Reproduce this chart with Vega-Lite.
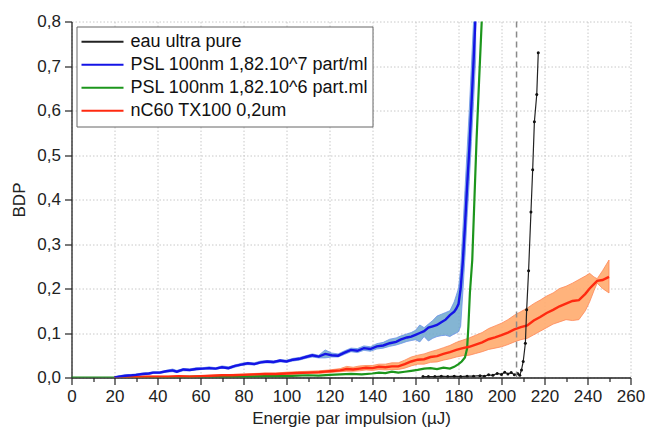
{
  "$schema": "https://vega.github.io/schema/vega-lite/v6.json",
  "width": 559,
  "height": 356,
  "autosize": {"type": "none"},
  "padding": {"left": 71.5, "top": 21.5, "right": 14.5, "bottom": 65.5},
  "background": "white",
  "config": {
    "view": {"stroke": null},
    "font": "Liberation Sans",
    "axis": {
      "domainColor": "#222", "domainWidth": 1.3, "tickColor": "#222", "tickWidth": 1.2,
      "labelFont": "Liberation Sans", "labelFontSize": 17, "labelColor": "#222",
      "titleFont": "Liberation Sans", "titleFontSize": 17, "titleFontWeight": "normal", "titleColor": "#222",
      "gridColor": "#c8c8c8", "gridDash": [1.5, 2], "gridWidth": 1,
      "labelFlush": false, "labelBound": false, "labelOverlap": false
    }
  },
  "datasets": {
    "blue": [
      {"x":20,"y":0.000,"lo":0.000,"hi":0.001},{"x":22,"y":0.002,"lo":0.000,"hi":0.004},{"x":25,"y":0.004,"lo":0.002,"hi":0.006},
      {"x":28,"y":0.005,"lo":0.003,"hi":0.007},{"x":30,"y":0.006,"lo":0.004,"hi":0.008},{"x":33,"y":0.008,"lo":0.006,"hi":0.010},
      {"x":36,"y":0.009,"lo":0.007,"hi":0.011},{"x":38,"y":0.011,"lo":0.009,"hi":0.013},{"x":41,"y":0.011,"lo":0.009,"hi":0.013},
      {"x":44,"y":0.014,"lo":0.012,"hi":0.016},{"x":47,"y":0.016,"lo":0.013,"hi":0.019},{"x":49,"y":0.013,"lo":0.011,"hi":0.016},
      {"x":52,"y":0.018,"lo":0.015,"hi":0.020},{"x":55,"y":0.017,"lo":0.015,"hi":0.019},{"x":58,"y":0.019,"lo":0.017,"hi":0.022},
      {"x":61,"y":0.020,"lo":0.018,"hi":0.022},{"x":64,"y":0.021,"lo":0.019,"hi":0.024},{"x":67,"y":0.020,"lo":0.018,"hi":0.022},
      {"x":70,"y":0.023,"lo":0.021,"hi":0.026},{"x":73,"y":0.021,"lo":0.019,"hi":0.024},{"x":76,"y":0.026,"lo":0.023,"hi":0.028},
      {"x":79,"y":0.029,"lo":0.027,"hi":0.032},{"x":82,"y":0.032,"lo":0.029,"hi":0.034},{"x":85,"y":0.030,"lo":0.028,"hi":0.033},
      {"x":88,"y":0.034,"lo":0.032,"hi":0.037},{"x":91,"y":0.036,"lo":0.033,"hi":0.038},{"x":94,"y":0.035,"lo":0.032,"hi":0.037},
      {"x":97,"y":0.038,"lo":0.035,"hi":0.040},{"x":100,"y":0.036,"lo":0.034,"hi":0.039},{"x":103,"y":0.040,"lo":0.037,"hi":0.043},
      {"x":106,"y":0.042,"lo":0.039,"hi":0.045},{"x":109,"y":0.046,"lo":0.043,"hi":0.049},{"x":112,"y":0.050,"lo":0.046,"hi":0.053},
      {"x":115,"y":0.047,"lo":0.044,"hi":0.050},{"x":118,"y":0.053,"lo":0.044,"hi":0.062},{"x":121,"y":0.050,"lo":0.046,"hi":0.055},
      {"x":124,"y":0.049,"lo":0.046,"hi":0.053},{"x":127,"y":0.056,"lo":0.052,"hi":0.060},{"x":130,"y":0.062,"lo":0.058,"hi":0.066},
      {"x":133,"y":0.060,"lo":0.056,"hi":0.065},{"x":136,"y":0.066,"lo":0.061,"hi":0.071},{"x":139,"y":0.064,"lo":0.059,"hi":0.069},
      {"x":142,"y":0.070,"lo":0.064,"hi":0.076},{"x":145,"y":0.072,"lo":0.066,"hi":0.079},{"x":148,"y":0.077,"lo":0.070,"hi":0.086},
      {"x":151,"y":0.080,"lo":0.073,"hi":0.089},{"x":153,"y":0.085,"lo":0.076,"hi":0.093},{"x":156,"y":0.090,"lo":0.081,"hi":0.098},
      {"x":158,"y":0.092,"lo":0.083,"hi":0.101},{"x":160,"y":0.096,"lo":0.085,"hi":0.106},{"x":162,"y":0.100,"lo":0.080,"hi":0.118},
      {"x":164,"y":0.104,"lo":0.092,"hi":0.112},{"x":166,"y":0.112,"lo":0.082,"hi":0.120},{"x":168,"y":0.115,"lo":0.088,"hi":0.128},
      {"x":170,"y":0.118,"lo":0.092,"hi":0.138},{"x":172,"y":0.124,"lo":0.094,"hi":0.142},{"x":174,"y":0.130,"lo":0.095,"hi":0.146},
      {"x":176,"y":0.140,"lo":0.092,"hi":0.150},{"x":178,"y":0.148,"lo":0.098,"hi":0.170},{"x":179,"y":0.155,"lo":0.100,"hi":0.185},
      {"x":180,"y":0.165,"lo":0.103,"hi":0.200},{"x":181,"y":0.200,"lo":0.115,"hi":0.245},{"x":182,"y":0.260,"lo":0.190,"hi":0.330},
      {"x":183,"y":0.340,"lo":0.270,"hi":0.420},{"x":184,"y":0.430,"lo":0.360,"hi":0.510},{"x":185,"y":0.510,"lo":0.440,"hi":0.600},
      {"x":186,"y":0.610,"lo":0.530,"hi":0.700},{"x":187,"y":0.710,"lo":0.620,"hi":0.800},{"x":188,"y":0.820,"lo":0.720,"hi":0.900}
    ],
    "green": [
      {"x":0,"y":0},{"x":5,"y":0},{"x":10,"y":0},{"x":15,"y":0},{"x":20,"y":0},{"x":25,"y":0},{"x":30,"y":0.001},
      {"x":40,"y":0.001},{"x":50,"y":0.001},{"x":60,"y":0.002},{"x":70,"y":0.002},{"x":80,"y":0.002},{"x":90,"y":0.003},
      {"x":100,"y":0.003},{"x":105,"y":0.004},{"x":110,"y":0.005},{"x":115,"y":0.004},{"x":120,"y":0.006},{"x":125,"y":0.007},
      {"x":130,"y":0.008},{"x":135,"y":0.007},{"x":140,"y":0.009},{"x":143,"y":0.011},{"x":146,"y":0.010},{"x":149,"y":0.013},
      {"x":152,"y":0.011},{"x":155,"y":0.013},{"x":158,"y":0.015},{"x":161,"y":0.017},{"x":164,"y":0.020},{"x":167,"y":0.021},
      {"x":170,"y":0.019},{"x":173,"y":0.022},{"x":176,"y":0.020},{"x":178,"y":0.024},{"x":180,"y":0.030},{"x":181.5,"y":0.036},
      {"x":183,"y":0.045},{"x":184,"y":0.065},{"x":184.6,"y":0.115},{"x":185.3,"y":0.190},{"x":186.4,"y":0.264},{"x":187.4,"y":0.400},
      {"x":188.4,"y":0.534},{"x":189.6,"y":0.670},{"x":190.8,"y":0.800},{"x":191.2,"y":0.850}
    ],
    "red": [
      {"x":20,"y":0.000,"lo":0.000,"hi":0.001},{"x":25,"y":0.001,"lo":0.000,"hi":0.002},{"x":30,"y":0.001,"lo":0.000,"hi":0.002},
      {"x":35,"y":0.002,"lo":0.001,"hi":0.003},{"x":40,"y":0.002,"lo":0.001,"hi":0.003},{"x":45,"y":0.002,"lo":0.001,"hi":0.003},
      {"x":50,"y":0.003,"lo":0.002,"hi":0.004},{"x":55,"y":0.002,"lo":0.001,"hi":0.004},{"x":60,"y":0.003,"lo":0.002,"hi":0.004},
      {"x":65,"y":0.004,"lo":0.003,"hi":0.005},{"x":70,"y":0.005,"lo":0.003,"hi":0.006},{"x":75,"y":0.005,"lo":0.004,"hi":0.007},
      {"x":80,"y":0.006,"lo":0.004,"hi":0.008},{"x":85,"y":0.007,"lo":0.005,"hi":0.009},{"x":90,"y":0.008,"lo":0.006,"hi":0.010},
      {"x":95,"y":0.008,"lo":0.006,"hi":0.010},{"x":100,"y":0.009,"lo":0.007,"hi":0.012},{"x":105,"y":0.010,"lo":0.008,"hi":0.013},
      {"x":110,"y":0.011,"lo":0.009,"hi":0.014},{"x":115,"y":0.012,"lo":0.009,"hi":0.015},{"x":120,"y":0.014,"lo":0.011,"hi":0.017},
      {"x":125,"y":0.016,"lo":0.013,"hi":0.020},{"x":128,"y":0.019,"lo":0.014,"hi":0.025},{"x":131,"y":0.018,"lo":0.014,"hi":0.023},
      {"x":134,"y":0.020,"lo":0.015,"hi":0.026},{"x":137,"y":0.022,"lo":0.017,"hi":0.027},{"x":140,"y":0.021,"lo":0.016,"hi":0.027},
      {"x":143,"y":0.024,"lo":0.018,"hi":0.030},{"x":146,"y":0.023,"lo":0.017,"hi":0.030},{"x":149,"y":0.025,"lo":0.018,"hi":0.033},
      {"x":152,"y":0.025,"lo":0.018,"hi":0.033},{"x":155,"y":0.030,"lo":0.021,"hi":0.039},{"x":158,"y":0.036,"lo":0.026,"hi":0.046},
      {"x":161,"y":0.040,"lo":0.030,"hi":0.050},{"x":164,"y":0.041,"lo":0.030,"hi":0.053},{"x":167,"y":0.046,"lo":0.034,"hi":0.058},
      {"x":170,"y":0.048,"lo":0.035,"hi":0.062},{"x":173,"y":0.053,"lo":0.039,"hi":0.067},{"x":176,"y":0.057,"lo":0.042,"hi":0.072},
      {"x":179,"y":0.062,"lo":0.046,"hi":0.079},{"x":182,"y":0.066,"lo":0.049,"hi":0.084},{"x":185,"y":0.069,"lo":0.050,"hi":0.089},
      {"x":188,"y":0.074,"lo":0.054,"hi":0.095},{"x":191,"y":0.079,"lo":0.058,"hi":0.101},{"x":194,"y":0.086,"lo":0.063,"hi":0.110},
      {"x":197,"y":0.090,"lo":0.066,"hi":0.116},{"x":200,"y":0.095,"lo":0.069,"hi":0.122},{"x":203,"y":0.101,"lo":0.074,"hi":0.130},
      {"x":206,"y":0.108,"lo":0.080,"hi":0.140},{"x":209,"y":0.113,"lo":0.085,"hi":0.148},{"x":212,"y":0.117,"lo":0.088,"hi":0.156},
      {"x":215,"y":0.128,"lo":0.096,"hi":0.166},{"x":218,"y":0.136,"lo":0.104,"hi":0.174},{"x":221,"y":0.145,"lo":0.112,"hi":0.183},
      {"x":224,"y":0.152,"lo":0.120,"hi":0.190},{"x":227,"y":0.160,"lo":0.125,"hi":0.200},{"x":230,"y":0.166,"lo":0.130,"hi":0.205},
      {"x":233,"y":0.172,"lo":0.128,"hi":0.212},{"x":236,"y":0.174,"lo":0.130,"hi":0.220},{"x":239,"y":0.188,"lo":0.150,"hi":0.228},
      {"x":241,"y":0.200,"lo":0.170,"hi":0.234},{"x":243,"y":0.210,"lo":0.195,"hi":0.226},{"x":244.5,"y":0.217,"lo":0.212,"hi":0.222},
      {"x":247,"y":0.219,"lo":0.200,"hi":0.240},{"x":250,"y":0.226,"lo":0.190,"hi":0.264}
    ],
    "black": [
      {"x":163.5,"y":0.002},{"x":166,"y":0.002},{"x":169,"y":0.002},{"x":172,"y":0.003},{"x":175,"y":0.002},{"x":178,"y":0.003},
      {"x":181,"y":0.002},{"x":184,"y":0.003},{"x":187,"y":0.003},{"x":190,"y":0.004},{"x":192,"y":0.003},{"x":194,"y":0.006},
      {"x":196,"y":0.005},{"x":198,"y":0.009},{"x":200,"y":0.007},{"x":201.5,"y":0.012},{"x":203,"y":0.008},{"x":204.5,"y":0.011},
      {"x":206,"y":0.006},{"x":207.5,"y":0.009},{"x":208.5,"y":0.005},{"x":209.3,"y":0.017},{"x":210.1,"y":0.036},{"x":211.1,"y":0.077},
      {"x":211.7,"y":0.152},{"x":212.6,"y":0.240},{"x":213.7,"y":0.372},{"x":214.5,"y":0.467},{"x":215.3,"y":0.575},{"x":216.4,"y":0.636},
      {"x":217.1,"y":0.730}
    ],
    "vline": [{"x":207}]
  },
  "encoding": {
    "x": {
      "field": "x", "type": "quantitative",
      "scale": {"domain": [0, 260], "nice": false, "zero": false},
      "axis": {
        "title": "Energie par impulsion (µJ)",
        "values": [0,10,20,30,40,50,60,70,80,90,100,110,120,130,140,150,160,170,180,190,200,210,220,230,240,250,260],
        "labelExpr": "datum.value % 20 === 0 ? datum.label : ''",
        "tickSize": {"condition": {"test": "datum.value % 20 === 0", "value": 7}, "value": 4},
        "gridOpacity": {"condition": {"test": "datum.value % 20 === 0", "value": 1}, "value": 0},
        "labelPadding": 4, "titlePadding": 6
      }
    }
  },
  "layer": [
    {
      "data": {"name": "red"},
      "mark": {"type": "area", "color": "#ffab6e", "opacity": 0.9, "stroke": "#ff7a45", "strokeWidth": 0.8, "clip": true},
      "encoding": {
        "y": {
          "field": "lo", "type": "quantitative",
          "scale": {"domain": [0, 0.8], "nice": false, "zero": false},
          "axis": {
            "title": "BDP",
            "values": [0,0.05,0.1,0.15,0.2,0.25,0.3,0.35,0.4,0.45,0.5,0.55,0.6,0.65,0.7,0.75,0.8],
            "labelExpr": "round(datum.value*100) % 10 === 0 ? replace(format(datum.value, '.1f'), '.', ',') : ''",
            "tickSize": {"condition": {"test": "round(datum.value*100) % 10 === 0", "value": 7}, "value": 4},
            "gridOpacity": {"condition": {"test": "round(datum.value*100) % 10 === 0", "value": 1}, "value": 0},
            "labelPadding": 4, "titlePadding": 8
          }
        },
        "y2": {"field": "hi"}
      }
    },
    {
      "data": {"name": "blue"},
      "mark": {"type": "area", "color": "#6fa9cc", "opacity": 0.85, "stroke": "#4f7fe6", "strokeWidth": 0.8, "clip": true},
      "encoding": {
        "y": {"field": "lo", "type": "quantitative"},
        "y2": {"field": "hi"}
      }
    },
    {
      "data": {"name": "green"},
      "mark": {"type": "line", "strokeWidth": 2.2, "clip": true},
      "encoding": {
        "y": {"field": "y", "type": "quantitative"},
        "color": {
          "datum": "PSL 100nm 1,82.10^6 part.ml",
          "scale": {
            "domain": ["eau ultra pure", "PSL 100nm 1,82.10^7 part/ml", "PSL 100nm 1,82.10^6 part.ml", "nC60 TX100 0,2um"],
            "range": ["#222222", "#1414e6", "#1c961c", "#ff2a10"]
          },
          "legend": {
            "orient": "none", "legendX": 5, "legendY": 5, "title": null,
            "symbolType": "stroke", "symbolSize": 1764, "symbolStrokeWidth": 2,
            "clipHeight": 22.5, "labelFontSize": 18, "labelFont": "Liberation Sans", "labelColor": "#111",
            "padding": 4, "strokeColor": "#666", "fillColor": "white", "labelOffset": 6,
            "rowPadding": 0, "labelLimit": 400, "cornerRadius": 0
          }
        }
      }
    },
    {
      "data": {"name": "red"},
      "mark": {"type": "line", "strokeWidth": 2.4, "clip": true},
      "encoding": {
        "y": {"field": "y", "type": "quantitative"},
        "color": {"datum": "nC60 TX100 0,2um"}
      }
    },
    {
      "data": {"name": "blue"},
      "mark": {"type": "line", "strokeWidth": 2.4, "clip": true},
      "encoding": {
        "y": {"field": "y", "type": "quantitative"},
        "color": {"datum": "PSL 100nm 1,82.10^7 part/ml"}
      }
    },
    {
      "data": {"name": "black"},
      "mark": {"type": "line", "strokeWidth": 1.2, "clip": true},
      "encoding": {
        "y": {"field": "y", "type": "quantitative"},
        "color": {"datum": "eau ultra pure"}
      }
    },
    {
      "data": {"name": "black"},
      "mark": {"type": "point", "filled": true, "size": 9, "color": "#111", "opacity": 1, "clip": true},
      "encoding": {
        "y": {"field": "y", "type": "quantitative"}
      }
    },
    {
      "data": {"name": "vline"},
      "mark": {"type": "rule", "color": "#8a8a8a", "strokeDash": [6, 4], "strokeWidth": 1.5},
      "encoding": {}
    }
  ],
  "resolve": {"scale": {"color": "shared"}}
}
